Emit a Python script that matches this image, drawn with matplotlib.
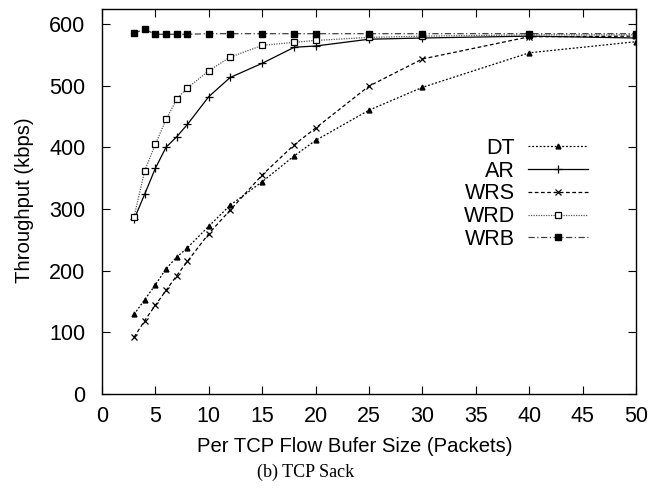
import numpy as np
from matplotlib import pyplot as plt

# buffer sizes (packets)
buf = [3, 4, 5, 6, 7, 8, 10, 12, 15, 18, 20, 25, 30, 40, 50]

# throughput (kbps) per scheme
dt = [129, 153, 177, 203, 222, 237, 272, 306, 344, 386, 411, 460, 497, 553, 571]
ar = [283, 324, 366, 400, 417, 437, 482, 513, 536, 562, 564, 575, 577, 580, 577]
wrs = [92, 119, 144, 168, 192, 215, 260, 298, 355, 404, 431, 499, 543, 579, 580]
wrd = [287, 362, 405, 445, 478, 496, 524, 546, 565, 570, 573, 578, 580, 582, 582]
wrb = [585, 591, 583, 583, 583, 583, 584, 584, 584, 584, 584, 584, 584, 584, 584]

plt.rcParams['font.family'] = ['Liberation Sans', 'DejaVu Sans']

fig = plt.figure(figsize=(6.6, 4.88), dpi=100)
ax = fig.add_axes([102 / 660, 1 - 394 / 488, 534 / 660, 385 / 488])

ax.plot(buf, dt, color='black', lw=0.9, ls=(0, (1.5, 1.5)), marker='^', ms=3.5, label='DT')
ax.plot(buf, ar, color='black', lw=0.9, ls='-', marker='+', ms=5.5, mew=0.9, label='AR')
ax.plot(buf, wrs, color='black', lw=0.9, ls=(0, (3, 2)), marker='x', ms=4.5, mew=0.9, label='WRS')
ax.plot(buf, wrd, color='0.35', lw=0.9, ls=(0, (1, 1)), marker='s', ms=4.5, mfc='white', mec='black',
        mew=0.9, label='WRD')
ax.plot(buf, wrb, color='0.25', lw=0.9, ls=(0, (5, 2, 1, 2)), marker='s', ms=4.5, mfc='black', mec='black',
        label='WRB')

ax.set_xlim(0, 50)
ax.set_ylim(0, 624)
ax.set_xticks(np.arange(0, 51, 5))
ax.set_yticks(np.arange(0, 601, 100))
ax.tick_params(direction='in', length=6, width=0.8, labelsize=15.5, top=True, right=True)
ax.tick_params(axis='x', pad=9)
ax.tick_params(axis='y', pad=12)
for s in ax.spines.values():
    s.set_linewidth(1.0)

leg = ax.legend(loc='upper right', bbox_to_anchor=(0.91, 0.665), frameon=False, markerfirst=False,
                fontsize=15.5, handlelength=2.8, labelspacing=0.08, handletextpad=0.6,
                borderpad=0, borderaxespad=0)
for t in leg.get_texts():
    t.set_ha('right')
leg._legend_box.align = 'right'

fig.text(355 / 660, 1 - 446 / 488, 'Per TCP Flow Bufer Size (Packets)', ha='center', va='center', fontsize=14.6)
fig.text(25 / 660, 1 - 200 / 488, 'Throughput (kbps)', ha='center', va='center', rotation=90, fontsize=14.6)
fig.text(306 / 660, 1 - 472 / 488, '(b) TCP Sack', ha='center', va='center', fontsize=13,
         family=['Liberation Serif', 'DejaVu Serif'])

fig.savefig('out.png', dpi=100)
